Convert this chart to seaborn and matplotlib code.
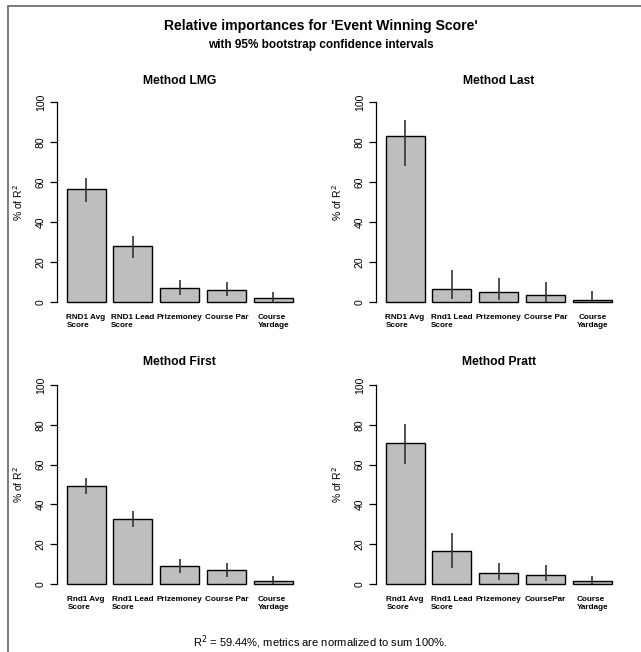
import matplotlib
matplotlib.use("Agg")
import matplotlib.pyplot as plt
from matplotlib.lines import Line2D
import seaborn as sns
import pandas as pd

sns.set_style("white")
plt.rcParams['font.family'] = ['Liberation Sans', 'DejaVu Sans']
plt.rcParams['text.color'] = 'black'
plt.rcParams['axes.labelcolor'] = 'black'
plt.rcParams['xtick.color'] = 'black'
plt.rcParams['ytick.color'] = 'black'

# ---- data ----
labels_lmg = ["RND1 Avg\nScore", "RND1 Lead\nScore", "Prizemoney", "Course Par", "Course\nYardage"]
labels_last = ["RND1 Avg\nScore", "Rnd1 Lead\nScore", "Prizemoney", "Course Par", "Course\nYardage"]
labels_first = ["Rnd1 Avg\nScore", "Rnd1 Lead\nScore", "Prizemoney", "Course Par", "Course\nYardage"]
labels_pratt = ["Rnd1 Avg\nScore", "Rnd1 Lead\nScore", "Prizemoney", "CoursePar", "Course\nYardage"]

lmg = [56.6, 27.9, 6.8, 6.2, 2.2]
lmg_lo = [50.2, 22.1, 3.7, 3.2, 0.0]
lmg_hi = [62.2, 33.2, 10.9, 10.0, 4.8]

last = [83.1, 6.7, 5.0, 3.5, 1.0]
last_lo = [68.1, 1.3, 0.8, 0.0, 0.0]
last_hi = [91.1, 16.2, 12.2, 9.9, 5.7]

first = [49.3, 32.8, 8.9, 6.9, 1.7]
first_lo = [45.2, 28.4, 5.5, 3.5, 0.0]
first_hi = [53.5, 36.6, 12.7, 10.7, 4.2]

pratt = [71.1, 16.7, 5.7, 4.7, 1.3]
pratt_lo = [60.5, 7.9, 1.8, 1.3, 0.0]
pratt_hi = [80.6, 25.6, 10.4, 9.4, 4.2]

yticks = [0, 20, 40, 60, 80, 100]

W, H = 641, 652
fig = plt.figure(figsize=(W / 100, H / 100), dpi=100)


def px_axes(left, right, bottom, top):
    return fig.add_axes([left / W, 1 - bottom / H, (right - left) / W, (bottom - top) / H])


panels = [
    ("Method LMG", labels_lmg, lmg, lmg_lo, lmg_hi, 57, 304, 100, "left", 11.5),
    ("Method Last", labels_last, last, last_lo, last_hi, 376, 304, 100, "last", 11.5),
    ("Method First", labels_first, first, first_lo, first_hi, 57, 586, 383, "left", 13.0),
    ("Method Pratt", labels_pratt, pratt, pratt_lo, pratt_hi, 376, 586, 383, "left", 13.0),
]

for title, labs, vals, lo, hi, x0, yb, yt, mode, tpad in panels:
    ax = px_axes(x0, x0 + 245.5, yb, yt)
    df = pd.DataFrame({"var": labs, "val": vals})
    sns.barplot(data=df, x="var", y="val", color="#BEBEBE", saturation=1,
                edgecolor="black", linewidth=1.0, width=0.833, ax=ax)
    ax.vlines(range(len(vals)), lo, hi, color="#333333", linewidth=1.2, zorder=5)
    ax.set_xlim(-0.62, 4.62)
    ax.set_ylim(-1, 101)
    for s in ["top", "right", "bottom"]:
        ax.spines[s].set_visible(False)
    ax.spines["left"].set_bounds(0, 100)
    ax.spines["left"].set_color("black")
    ax.spines["left"].set_linewidth(0.9)
    ax.set_yticks(yticks)
    ax.set_yticklabels([str(t) for t in yticks], rotation=90, va="center", fontsize=7.5)
    ax.tick_params(axis="y", direction="out", length=5, width=0.9, color="black", pad=3, left=True)
    ax.tick_params(axis="x", length=0, pad=7)
    ax.set_xlabel("")
    ax.set_ylabel("% of R$^2$", fontsize=7.5, labelpad=7.5)
    for i, t in enumerate(ax.get_xticklabels()):
        t.set_fontsize(5.9)
        t.set_fontweight("bold")
        t.set_va("top")
        if mode == "last" and i == 4:
            t.set_multialignment("center")
        else:
            t.set_multialignment("left")
    ax.set_title(title, fontsize=8.7, fontweight="bold", pad=tpad)

fig.text(0.5, 1 - 26 / H, "Relative importances for 'Event Winning Score'",
         ha="center", va="center", fontsize=10.1, fontweight="bold")
fig.text(0.5, 1 - 45 / H, "with 95% bootstrap confidence intervals",
         ha="center", va="center", fontsize=8.5, fontweight="bold")
fig.text(0.5, 1 - 642 / H, "R$^2$ = 59.44%, metrics are normalized to sum 100%.",
         ha="center", va="center", fontsize=8)

# outer border (top and left)
fig.add_artist(Line2D([7.5 / W, 1.0], [1 - 5.5 / H, 1 - 5.5 / H], color="#666666", linewidth=1.2,
                      transform=fig.transFigure))
fig.add_artist(Line2D([7.5 / W, 7.5 / W], [0.0, 1 - 5.5 / H], color="#666666", linewidth=1.2,
                      transform=fig.transFigure))

fig.savefig("out.png", dpi=100)
